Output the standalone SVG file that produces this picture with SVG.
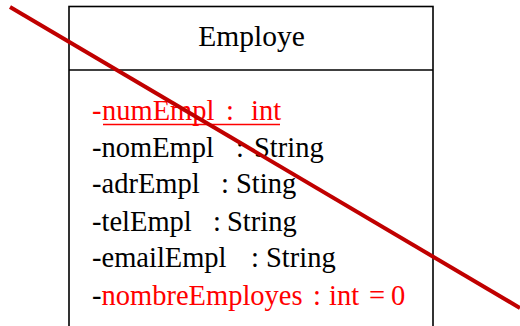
<svg xmlns="http://www.w3.org/2000/svg" width="520" height="326" viewBox="0 0 520 326">
<style>
.t{font-family:'Liberation Serif','Times New Roman',serif;font-size:28.5px;fill:#000}
.title{font-size:29.5px}
.red{fill:#ff0000}
.box{fill:#fff;stroke:#000;stroke-width:1.6}
</style>
<rect width="520" height="326" fill="#fff"/>
<g id="Employe">
<rect class="box" x="69" y="6.5" width="364" height="340"/>
<line x1="69" y1="70" x2="433" y2="70" stroke="#000" stroke-width="1.6"/>
<text class="t title" x="251.5" y="46" text-anchor="middle">Employe</text>
<text class="t red" y="120"><tspan x="92">-</tspan><tspan x="102">numEmpl</tspan><tspan x="226">:</tspan><tspan x="251">int</tspan></text>
<line x1="103" y1="124.5" x2="280" y2="124.5" stroke="#ff0000" stroke-width="1.6"/>
<text class="t" y="157"><tspan x="92">-nomEmpl</tspan><tspan x="236">:</tspan><tspan x="254">String</tspan></text>
<text class="t" y="193"><tspan x="92">-adrEmpl</tspan><tspan x="221">:</tspan><tspan x="236">Sting</tspan></text>
<text class="t" y="231"><tspan x="92">-telEmpl</tspan><tspan x="213">:</tspan><tspan x="227">String</tspan></text>
<text class="t" y="267"><tspan x="92">-emailEmpl</tspan><tspan x="251">:</tspan><tspan x="266">String</tspan></text>
<text class="t" y="305"><tspan x="92">-</tspan><tspan class="red">nombreEmployes</tspan><tspan class="red" x="313">:</tspan><tspan class="red" x="329">int</tspan><tspan class="red" x="369">=</tspan><tspan class="red" x="391">0</tspan></text>
</g>
<g id="connectors">
<line x1="10" y1="7" x2="520" y2="308" stroke="#c00000" stroke-width="4"/>
</g>
</svg>
